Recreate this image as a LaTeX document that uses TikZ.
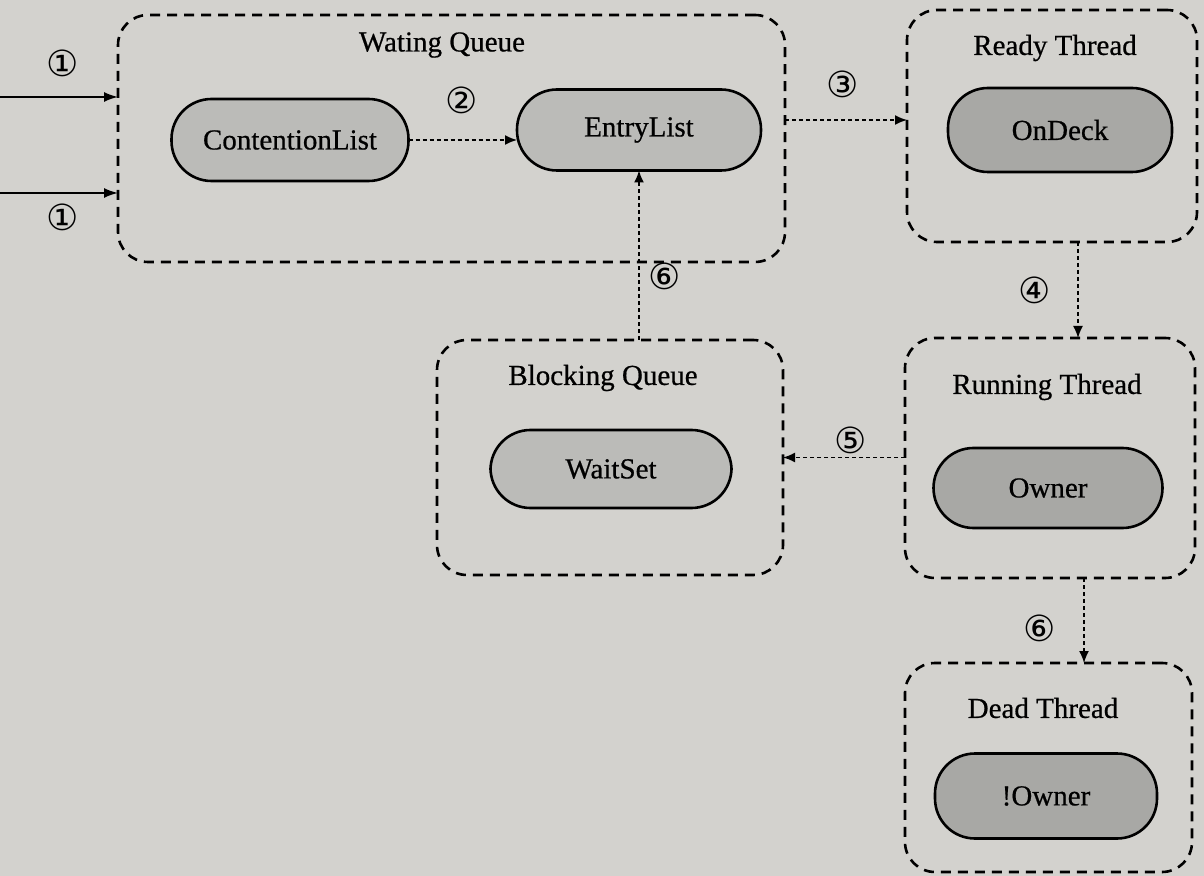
\documentclass[tikz,border=0pt]{standalone}
\usepackage{fontspec}
\setmainfont{Liberation Serif}[RawFeature={embolden=0.6}]
\newfontfamily\circfont{DejaVu Sans}
\usetikzlibrary{arrows.meta}
\definecolor{paper}{HTML}{D3D2CE}
\definecolor{pilllight}{HTML}{BBBBB8}
\definecolor{pilldark}{HTML}{A8A8A5}
\tikzset{
  box/.style={draw=black, line width=1.3pt, dash pattern=on 5pt off 3.5pt, rounded corners=15pt, inner sep=0pt, outer sep=0pt},
  pill/.style={draw=black, line width=1.3pt, rounded corners=20pt, inner sep=0pt, outer sep=0pt, font=\fontsize{14.5}{17}\selectfont},
  light/.style={pill, fill=pilllight},
  dark/.style={pill, fill=pilldark},
  ttl/.style={font=\fontsize{14.5}{17}\selectfont, inner sep=0pt},
  num/.style={font=\circfont\fontsize{18}{20}\selectfont, inner sep=0pt},
  conn/.style={line width=0.8pt, dash pattern=on 2pt off 1.5pt, -{Latex[length=6pt,width=5pt]}},
  solidarr/.style={line width=0.9pt, -{Latex[length=7pt,width=5pt]}}
}
\begin{document}
\begin{tikzpicture}[x=0.5pt,y=-0.5pt]
\fill[paper] (0,0) rectangle (1204,876);
\useasboundingbox (0,0) rectangle (1204,876);
% containers
\node[box, minimum width=333.5pt, minimum height=123.5pt] (WQ) at (451.5,138.5) {};
\node[box, minimum width=145pt, minimum height=116pt] (RT) at (1052,126) {};
\node[box, minimum width=145pt, minimum height=120pt] (RunT) at (1050,458) {};
\node[box, minimum width=173pt, minimum height=117.5pt] (BQ) at (610,457.5) {};
\node[box, minimum width=143.5pt, minimum height=104.5pt] (DT) at (1048.5,767.5) {};
% titles
\node[ttl] (tWQ) at (442,45) {Wating Queue};
\node[ttl] (tRT) at (1055,48) {Ready Thread};
\node[ttl] (tRunT) at (1047,387) {Running Thread};
\node[ttl] (tBQ) at (603,378) {Blocking Queue};
\node[ttl] (tDT) at (1043,708) {Dead Thread};
% pills
\node[light, minimum width=118.5pt, minimum height=41pt] (CL) at (290,140) {ContentionList};
\node[light, minimum width=122pt, minimum height=40.5pt] (EL) at (639,130) {EntryList};
\node[dark, minimum width=112pt, minimum height=42pt] (OD) at (1060,130) {OnDeck};
\node[dark, minimum width=114.5pt, minimum height=40pt] (OW) at (1048,488) {Owner};
\node[light, minimum width=120.5pt, minimum height=39pt] (WS) at (611,469) {WaitSet};
\node[dark, minimum width=111pt, minimum height=42.5pt] (NO) at (1046,796) {!Owner};
% inputs
\coordinate (in1) at (0,97);
\coordinate (in2) at (0,193);
\draw[solidarr] (in1) -- (in1 -| WQ.west);
\draw[solidarr] (in2) -- (in2 -| WQ.west);
\node[num] (n1a) at (63,63) {①};
\node[num] (n1b) at (63,217) {①};
% connectors
\draw[conn] (CL.east) -- (CL.east -| EL.west);
\node[num] (n2) at (462,100) {②};
\draw[conn] (WQ.east |- 0,120) -- (RT.west |- 0,120);
\node[num] (n3) at (843,84) {③};
\draw[conn] ([xshift=13pt]RT.south) -- ([xshift=13pt]RT.south |- RunT.north);
\node[num] (n4) at (1035,290) {④};
\draw[conn] (RunT.west |- BQ.east) -- (BQ.east);
\node[num] (n5) at (851,440) {⑤};
\draw[conn] (EL.south |- BQ.north) -- (EL.south);
\node[num] (n6a) at (665,276) {⑥};
\draw[conn] ([xshift=17pt]RunT.south) -- ([xshift=17pt]RunT.south |- DT.north);
\node[num] (n6b) at (1040,628) {⑥};
\end{tikzpicture}
\end{document}
